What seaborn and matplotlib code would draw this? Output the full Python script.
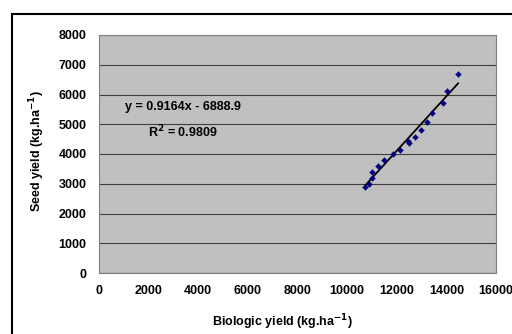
import numpy as np
import pandas as pd
import matplotlib
matplotlib.use("Agg")
import matplotlib.pyplot as plt
import seaborn as sns
from matplotlib.patches import Rectangle

# %% Data ----
biologic_yield = [10720, 10894, 10990, 10990, 11232, 11498, 11861, 12131, 12441,
                  12506, 12748, 12977, 13207, 13421, 13852, 14013, 14481]
seed_yield = [2901, 2992, 3183, 3405, 3597, 3798, 4000, 4134, 4447,
              4380, 4582, 4797, 5086, 5388, 5704, 6108, 6699]
slope, intercept, r2 = 0.9164, -6888.9, 0.9809

df = pd.DataFrame({'x': biologic_yield, 'y': seed_yield})
trend = pd.DataFrame({'x': [min(biologic_yield), max(biologic_yield)]})
trend['y'] = slope * trend['x'] + intercept

# %% Plot ----
sns.set_style('white')
plt.rcParams['font.family'] = ['Liberation Sans', 'DejaVu Sans']
plt.rcParams['font.weight'] = 'bold'
plt.rcParams['text.color'] = 'black'
plt.rcParams['axes.labelcolor'] = 'black'
plt.rcParams['xtick.color'] = 'black'
plt.rcParams['ytick.color'] = 'black'

fig = plt.figure(figsize=(5.12, 3.34), dpi=100)
fig.patches.append(Rectangle((12 / 512, -0.1), 1.2, 1 - 14 / 334 + 0.1,
                             transform=fig.transFigure, fill=False,
                             edgecolor='black', linewidth=1.5))
ax = fig.add_axes([99 / 512, 1 - 273 / 334, 397 / 512, 238 / 334])
ax.set_facecolor('#c0c0c0')

sns.lineplot(data=trend, x='x', y='y', color='black', linewidth=1.3, ax=ax)
sns.scatterplot(data=df, x='x', y='y', marker='D', s=9, color='#000080',
                edgecolor='#000080', ax=ax, zorder=3)

ax.set_xlim(0, 16000)
ax.set_ylim(0, 8000)
ax.set_xticks(np.arange(0, 16001, 2000))
ax.set_yticks(np.arange(0, 8001, 1000))
ax.yaxis.grid(True, color='#404040', linewidth=0.8)
ax.set_axisbelow(True)
for s in ax.spines.values():
    s.set_color('#808080')
    s.set_linewidth(0.8)
ax.tick_params(axis='both', direction='out', length=4, width=0.8,
               labelsize=9, pad=5, labelcolor='black')
ax.tick_params(axis='both', color='#808080')
for lab in ax.get_xticklabels() + ax.get_yticklabels():
    lab.set_fontweight('bold')

ax.set_xlabel('Biologic yield (kg.ha$^{\\mathbf{-1}}$)', fontsize=9, fontweight='bold')
ax.xaxis.set_label_coords(0.463, -0.165)
ax.set_ylabel('Seed yield (kg.ha$^{\\mathbf{-1}}$)', fontsize=9, fontweight='bold')
ax.yaxis.set_label_coords(-0.132, 0.51)

ax.text(0.212, 0.697, f'y = {slope}x - {abs(intercept)}', transform=ax.transAxes,
        ha='center', va='center', fontsize=9, fontweight='bold')
ax.text(0.212, 0.592, f'R$^{{2}}$ = {r2}', transform=ax.transAxes,
        ha='center', va='center', fontsize=9, fontweight='bold')

fig.savefig('out.png', dpi=100)
